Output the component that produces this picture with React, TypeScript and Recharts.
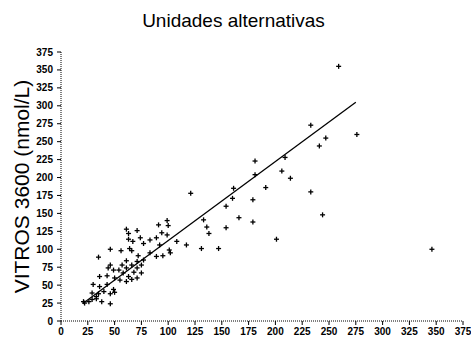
import { ScatterChart, Scatter, XAxis, YAxis } from 'recharts'

const axisTicks = [0, 25, 50, 75, 100, 125, 150, 175, 200, 225, 250, 275, 300, 325, 350, 375]

// reference method (x) vs VITROS 3600 (y), nmol/L
const samples = [
  { x: 35, y: 89 }, { x: 46, y: 100 }, { x: 61, y: 128 }, { x: 63, y: 122 }, { x: 71, y: 126 },
  { x: 56, y: 98 }, { x: 64, y: 101 }, { x: 66, y: 98 }, { x: 63, y: 114 }, { x: 67, y: 111 },
  { x: 74, y: 116 }, { x: 77, y: 108 }, { x: 83, y: 113 }, { x: 89, y: 116 }, { x: 91, y: 134 },
  { x: 99, y: 140 }, { x: 100, y: 133 }, { x: 94, y: 123 }, { x: 92, y: 106 }, { x: 101, y: 99 },
  { x: 95, y: 91 }, { x: 89, y: 90 }, { x: 83, y: 95 }, { x: 72, y: 91 }, { x: 77, y: 85 },
  { x: 71, y: 83 }, { x: 75, y: 78 }, { x: 61, y: 84 }, { x: 57, y: 78 }, { x: 61, y: 74 },
  { x: 66, y: 78 }, { x: 71, y: 74 }, { x: 75, y: 67 }, { x: 68, y: 68 }, { x: 46, y: 78 },
  { x: 49, y: 71 }, { x: 44, y: 74 }, { x: 54, y: 71 }, { x: 58, y: 67 }, { x: 63, y: 62 },
  { x: 36, y: 62 }, { x: 43, y: 63 }, { x: 50, y: 60 }, { x: 55, y: 57 }, { x: 61, y: 55 },
  { x: 66, y: 58 }, { x: 71, y: 60 }, { x: 30, y: 51 }, { x: 36, y: 48 }, { x: 43, y: 51 },
  { x: 49, y: 44 }, { x: 40, y: 41 }, { x: 35, y: 38 }, { x: 29, y: 39 }, { x: 46, y: 38 },
  { x: 50, y: 40 }, { x: 22, y: 25 }, { x: 26, y: 27 }, { x: 29, y: 30 }, { x: 33, y: 31 },
  { x: 38, y: 27 }, { x: 46, y: 24 }, { x: 21, y: 27 }, { x: 33, y: 34 }, { x: 102, y: 95 },
  { x: 108, y: 111 }, { x: 117, y: 106 }, { x: 131, y: 101 }, { x: 147, y: 101 }, { x: 133, y: 141 },
  { x: 136, y: 131 }, { x: 138, y: 122 }, { x: 99, y: 120 }, { x: 121, y: 178 }, { x: 161, y: 185 },
  { x: 160, y: 171 }, { x: 154, y: 160 }, { x: 166, y: 144 }, { x: 154, y: 130 },
  { x: 259, y: 355 }, { x: 276, y: 260 }, { x: 233, y: 273 }, { x: 247, y: 255 }, { x: 241, y: 244 },
  { x: 209, y: 228 }, { x: 181, y: 223 }, { x: 181, y: 204 }, { x: 206, y: 209 }, { x: 214, y: 199 },
  { x: 191, y: 186 }, { x: 233, y: 180 }, { x: 179, y: 169 }, { x: 244, y: 148 }, { x: 179, y: 138 },
  { x: 201, y: 114 }, { x: 346, y: 100 },
]

// regression line end points
const fitLine = [
  { x: 21, y: 25 },
  { x: 275, y: 305 },
]

const font = 'Liberation Sans, Arial, sans-serif'

const Plus = (props: any) => {
  const { cx, cy } = props
  if (cx == null || cy == null) return <g />
  return (
    <g stroke="#000" strokeWidth={1.3}>
      <line x1={cx - 2.5} y1={cy} x2={cx + 2.5} y2={cy} />
      <line x1={cx} y1={cy - 2.5} x2={cx} y2={cy + 2.5} />
    </g>
  )
}

const tickStyle = { fontSize: 10, fontWeight: 'bold', fill: '#000', fontFamily: font }

export default function App() {
  return (
    <div style={{ position: 'absolute', left: 0, top: 0, width: 471, height: 340, background: '#fff' }}>
      <div
        style={{
          position: 'absolute',
          left: 0,
          top: 10,
          width: 467,
          textAlign: 'center',
          fontFamily: font,
          fontSize: 19,
          lineHeight: '22px',
          color: '#000',
        }}
      >
        Unidades alternativas
      </div>
      <ScatterChart width={471} height={340} margin={{ top: 52, right: 8, bottom: 4, left: 0 }}>
        <XAxis
          type="number"
          dataKey="x"
          domain={[0, 375]}
          ticks={axisTicks}
          interval={0}
          height={15}
          tick={tickStyle}
          tickSize={4}
          tickMargin={3}
          axisLine={{ stroke: '#000', strokeDasharray: '1 1' }}
          tickLine={{ stroke: '#000' }}
        />
        <YAxis
          type="number"
          dataKey="y"
          domain={[0, 375]}
          ticks={axisTicks}
          interval={0}
          width={61}
          tick={tickStyle}
          tickSize={4}
          tickMargin={4}
          axisLine={{ stroke: '#000', strokeDasharray: '1 1' }}
          tickLine={{ stroke: '#000' }}
          label={{
            value: 'VITROS 3600 (nmol/L)',
            angle: -90,
            position: 'insideLeft',
            offset: 22,
            style: { textAnchor: 'middle', fontSize: 21, fontFamily: font, fill: '#000' },
          }}
        />
        <Scatter data={fitLine} line={{ stroke: '#000', strokeWidth: 1.3 }} shape={() => <g />} isAnimationActive={false} />
        <Scatter data={samples} shape={<Plus />} isAnimationActive={false} />
      </ScatterChart>
    </div>
  )
}
